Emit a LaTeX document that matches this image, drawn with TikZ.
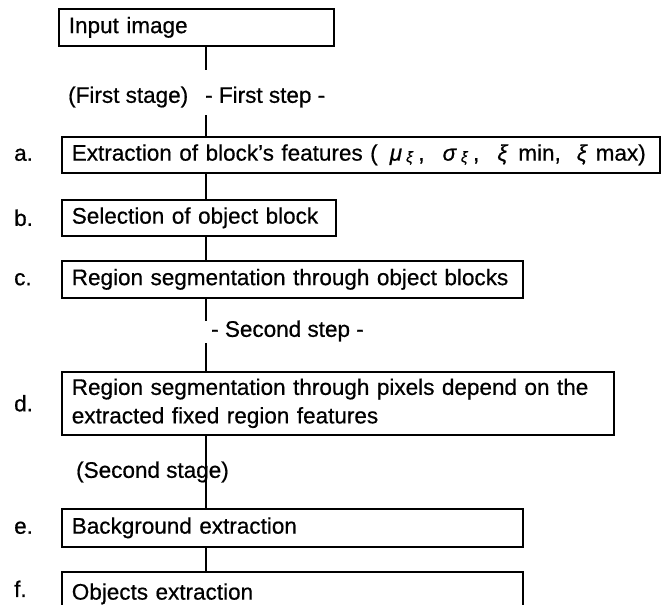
\documentclass[tikz,border=0pt]{standalone}
\usepackage{fontspec}
\setmainfont{Liberation Sans}[FakeBold=0.6]
\usetikzlibrary{positioning}

\newcommand{\gsub}[1]{\raisebox{-1.5pt}{\fontsize{15}{15}\selectfont\textit{#1}}}

\begin{document}
\begin{tikzpicture}[x=1pt,y=-1pt]
	\tikzstyle{block} = [rectangle,draw=black,line width=1.6pt,anchor=north west,inner xsep=10pt,inner ysep=0pt,align=left,font=\fontsize{22.5}{28.5}\selectfont]
	\tikzstyle{tag} = [anchor=west,inner sep=0pt,font=\fontsize{22.5}{27}\selectfont]
	\tikzstyle{link} = [line width=1.2pt]

	\useasboundingbox (0,0) rectangle (664,605);
	\clip (0,0) rectangle (664,605);

	\coordinate (spine) at (206,0);
	\coordinate (lab) at (14,0);

	\node[block,text width=255pt,minimum height=37pt] (in) at (58,8) {Input image};
	\node[block,text width=578pt,minimum height=36pt] (a) at (61,136) {Extraction of block's features (\hspace{12pt}\textit{μ}\hspace{4pt}\gsub{ξ}\hspace{5pt},\hspace{18pt}\textit{σ}\hspace{4pt}\gsub{ξ}\hspace{5pt},\hspace{18pt}\textit{ξ}\hspace{10pt}min,\hspace{16pt}\textit{ξ}\hspace{8pt}max)};
	\node[block,text width=254pt,minimum height=36pt] (b) at (61,199) {Selection of object block};
	\node[block,text width=441pt,minimum height=37pt] (c) at (61,260) {Region segmentation through object blocks};
	\node[block,text width=532pt,minimum height=63pt] (d) at (61,371) {Region segmentation through pixels depend on the\\extracted fixed region features};
	\node[block,text width=441pt,minimum height=38pt] (e) at (61,508) {Background extraction};
	\node[block,text width=441pt,minimum height=44pt] (f) at (61,571) {Objects extraction};

	\node[tag] (ta) at (a.west -| lab) {a.};
	\node[tag] (tb) at (b.west -| lab) {b.};
	\node[tag] (tc) at (c.west -| lab) {c.};
	\node[tag] (td) at (d.west -| lab) {d.};
	\node[tag] (te) at (e.west -| lab) {e.};
	\node[tag,yshift=5pt] (tf) at (f.west -| lab) {f.};

	\node[tag] (stage1) at (68,97) {(First stage)};
	\node[tag] (step1) at (205,97) {- First step -};
	\node[tag] (step2) at (211,331) {- Second step -};
	\node[tag] (stage2) at (76,472) {(Second stage)};

	\coordinate (g1) at (206,70);
	\coordinate (g2) at (206,115);
	\coordinate (g3) at (206,321);
	\coordinate (g4) at (206,343);

	\draw[link] (in.south -| spine) -- (g1);
	\draw[link] (g2) -- (a.north -| spine);
	\draw[link] (a.south -| spine) -- (b.north -| spine);
	\draw[link] (b.south -| spine) -- (c.north -| spine);
	\draw[link] (c.south -| spine) -- (g3);
	\draw[link] (g4) -- (d.north -| spine);
	\draw[link] (d.south -| spine) -- (e.north -| spine);
	\draw[link] (e.south -| spine) -- (f.north -| spine);
\end{tikzpicture}
\end{document}
